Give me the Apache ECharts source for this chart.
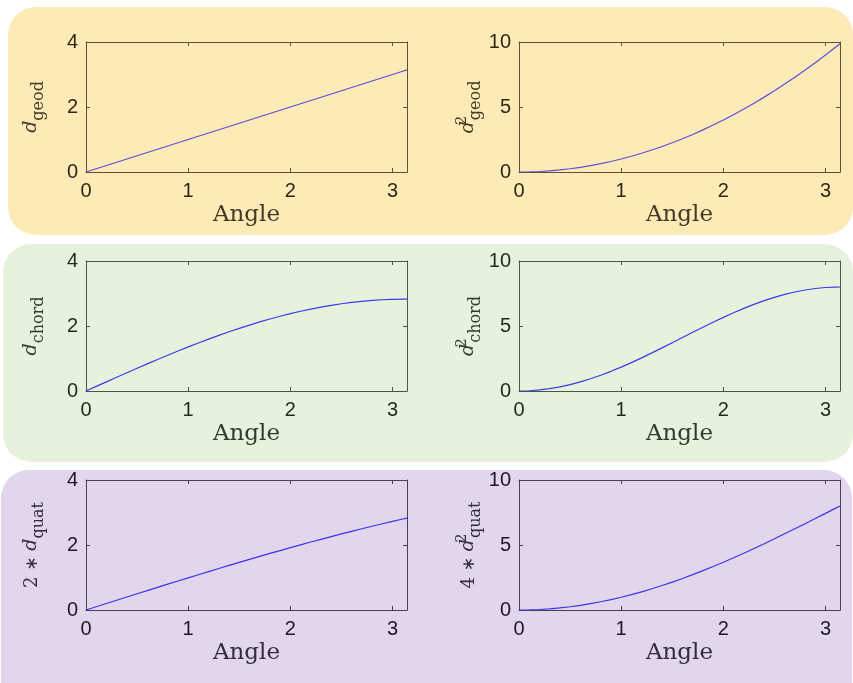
<!DOCTYPE html>
<html>
<head>
<meta charset="utf-8">
<script src="https://cdn.jsdelivr.net/npm/echarts@6/dist/echarts.min.js"></script>
<style>
html, body { margin: 0; padding: 0; background: #ffffff; }
#chart { width: 853px; height: 683px; }
</style>
</head>
<body>
<div id="chart"></div>
<script>
// Rotation angle samples (radians), 0 .. pi
const angle = [0, 0.1, 0.2, 0.3, 0.4, 0.5, 0.6, 0.7, 0.8, 0.9, 1.0, 1.1, 1.2, 1.3, 1.4, 1.5,
  1.6, 1.7, 1.8, 1.9, 2.0, 2.1, 2.2, 2.3, 2.4, 2.5, 2.6, 2.7, 2.8, 2.9, 3.0, 3.1, 3.1416];

// Geodesic distance and its square
const dGeod = [0, 0.1, 0.2, 0.3, 0.4, 0.5, 0.6, 0.7, 0.8, 0.9, 1.0, 1.1, 1.2, 1.3, 1.4, 1.5,
  1.6, 1.7, 1.8, 1.9, 2.0, 2.1, 2.2, 2.3, 2.4, 2.5, 2.6, 2.7, 2.8, 2.9, 3.0, 3.1, 3.1416];
const dGeodSq = [0, 0.01, 0.04, 0.09, 0.16, 0.25, 0.36, 0.49, 0.64, 0.81, 1.0, 1.21, 1.44, 1.69, 1.96, 2.25,
  2.56, 2.89, 3.24, 3.61, 4.0, 4.41, 4.84, 5.29, 5.76, 6.25, 6.76, 7.29, 7.84, 8.41, 9.0, 9.61, 9.87];

// Chordal distance and its square
const dChord = [0, 0.141, 0.282, 0.423, 0.562, 0.700, 0.836, 0.970, 1.101, 1.230, 1.356, 1.478, 1.597, 1.712, 1.822, 1.928,
  2.029, 2.125, 2.216, 2.301, 2.380, 2.453, 2.521, 2.582, 2.636, 2.684, 2.725, 2.760, 2.787, 2.808, 2.821, 2.828, 2.828];
const dChordSq = [0, 0.020, 0.080, 0.179, 0.316, 0.490, 0.699, 0.941, 1.213, 1.514, 1.839, 2.186, 2.551, 2.930, 3.320, 3.717,
  4.117, 4.515, 4.909, 5.293, 5.665, 6.019, 6.354, 6.665, 6.950, 7.205, 7.428, 7.616, 7.769, 7.884, 7.960, 7.996, 8.0];

// Quaternion distance, scaled
const dQuat2 = [0, 0.100, 0.200, 0.300, 0.399, 0.499, 0.598, 0.696, 0.795, 0.892, 0.990, 1.086, 1.182, 1.277, 1.372, 1.465,
  1.558, 1.649, 1.740, 1.829, 1.918, 2.005, 2.091, 2.175, 2.259, 2.340, 2.421, 2.500, 2.577, 2.653, 2.727, 2.799, 2.828];
const dQuat4Sq = [0, 0.010, 0.040, 0.090, 0.159, 0.249, 0.357, 0.485, 0.632, 0.796, 0.979, 1.180, 1.397, 1.631, 1.881, 2.146,
  2.426, 2.720, 3.027, 3.347, 3.678, 4.019, 4.371, 4.732, 5.101, 5.477, 5.860, 6.248, 6.640, 7.036, 7.434, 7.834, 8.0];

// Tick labels
const xTicks = [0, 1, 2, 3];
const yTicksDist = [0, 2, 4];
const yTicksSq = [0, 5, 10];

// Colour themes for the three rows
const themes = {
  geod:  { bg: '#FDEBB7', axis: '#5E5030', text: '#2F2712', name: '#433A26', line: '#5A4FD8' },
  chord: { bg: '#E6F2DC', axis: '#4B5646', text: '#1F2A1C', name: '#313B2F', line: '#3B3BEA' },
  quat:  { bg: '#E1D6EB', axis: '#463F55', text: '#1D1828', name: '#332D3F', line: '#3A34EC' }
};

const PLOT_W = 321, PLOT_H = 130;
const panels = [
  { left: 86,  top: 42,  theme: 'geod',  y: dGeod,    ticks: yTicksDist, name: '{d|d}{sub|geod}',                    gap: 39 },
  { left: 519, top: 42,  theme: 'geod',  y: dGeodSq,  ticks: yTicksSq,   name: '{d|d}{sup|2}{sub|geod}',             gap: 35 },
  { left: 86,  top: 261, theme: 'chord', y: dChord,   ticks: yTicksDist, name: '{d|d}{sub|chord}',                   gap: 39 },
  { left: 519, top: 261, theme: 'chord', y: dChordSq, ticks: yTicksSq,   name: '{d|d}{sup|2}{sub|chord}',            gap: 35 },
  { left: 86,  top: 480, theme: 'quat',  y: dQuat2,   ticks: yTicksDist, name: '{n|2 }{ast|∗}{n| }{d|d}{sub|quat}',       gap: 39 },
  { left: 519, top: 480, theme: 'quat',  y: dQuat4Sq, ticks: yTicksSq,   name: '{n|4 }{ast|∗}{n| }{d|d}{sup|2}{sub|quat}', gap: 35 }
];

const serif = 'DejaVu Serif';
const sans = 'Liberation Sans';
const xMax = angle[angle.length - 1];

// Rich text pieces for the math-style axis titles (bottom aligned, raised with padding)
function richStyles(color) {
  return {
    n:   { fontFamily: serif, fontSize: 18, verticalAlign: 'bottom', padding: [0, 0, 6, 0], color: color },
    ast: { fontFamily: 'DejaVu Sans', fontSize: 17, verticalAlign: 'bottom', padding: [0, 0, 6, 0], color: color },
    d:   { fontFamily: serif, fontStyle: 'italic', fontSize: 19, verticalAlign: 'bottom', padding: [0, 0, 6, 0], color: color },
    sup: { fontFamily: serif, fontSize: 14, verticalAlign: 'bottom', padding: [0, 0, 15, 1], width: 0, color: color },
    sub: { fontFamily: serif, fontSize: 16, verticalAlign: 'bottom', color: color }
  };
}

const grid = [], xAxis = [], yAxis = [], series = [];

panels.forEach((p, i) => {
  const t = themes[p.theme];
  const yMax = p.ticks[p.ticks.length - 1];
  grid.push({ left: p.left, top: p.top, width: PLOT_W, height: PLOT_H, containLabel: false, outerBoundsMode: 'none' });

  const lineStyle = { color: t.axis, width: 1 };
  // bottom axis with labels
  xAxis.push({
    gridIndex: i, type: 'value', position: 'bottom', min: 0, max: xMax,
    axisLine: { show: true, onZero: false, lineStyle },
    axisTick: { show: true, inside: true, length: 4, customValues: xTicks, lineStyle },
    axisLabel: { show: true, customValues: xTicks, margin: 9, color: t.text, fontFamily: sans, fontSize: 20 },
    splitLine: { show: false },
    name: 'Angle', nameLocation: 'middle', nameGap: 32, nameMoveOverlap: false,
    nameTextStyle: { fontFamily: serif, fontSize: 23, color: t.name }
  });
  // top mirror axis (box)
  xAxis.push({
    gridIndex: i, type: 'value', position: 'top', min: 0, max: xMax,
    axisLine: { show: true, onZero: false, lineStyle },
    axisTick: { show: true, inside: true, length: 4, customValues: xTicks, lineStyle },
    axisLabel: { show: false }, splitLine: { show: false }
  });
  // left axis with labels
  yAxis.push({
    gridIndex: i, type: 'value', position: 'left', min: 0, max: yMax,
    axisLine: { show: true, onZero: false, lineStyle },
    axisTick: { show: true, inside: true, length: 4, customValues: p.ticks, lineStyle },
    axisLabel: { show: true, customValues: p.ticks, margin: 8, color: t.text, fontFamily: sans, fontSize: 20 },
    splitLine: { show: false },
    name: p.name, nameLocation: 'middle', nameRotate: 90, nameGap: p.gap, nameMoveOverlap: false,
    nameTextStyle: { align: 'center', verticalAlign: 'bottom', color: t.name, rich: richStyles(t.name) }
  });
  // right mirror axis (box)
  yAxis.push({
    gridIndex: i, type: 'value', position: 'right', min: 0, max: yMax,
    axisLine: { show: true, onZero: false, lineStyle },
    axisTick: { show: true, inside: true, length: 4, customValues: p.ticks, lineStyle },
    axisLabel: { show: false }, splitLine: { show: false }
  });

  series.push({
    type: 'line', xAxisIndex: 2 * i, yAxisIndex: 2 * i,
    data: angle.map((a, k) => [a, p.y[k]]),
    showSymbol: false, smooth: false,
    lineStyle: { color: t.line, width: 1.2 },
    z: 3
  });
});

// Rounded background panels behind each row
const graphic = [
  { type: 'rect', z: -10, silent: true, shape: { x: 8, y: 7, width: 845, height: 228, r: 28 }, style: { fill: themes.geod.bg } },
  { type: 'rect', z: -10, silent: true, shape: { x: 3, y: 244, width: 850, height: 218, r: 28 }, style: { fill: themes.chord.bg } },
  { type: 'rect', z: -10, silent: true, shape: { x: 1, y: 470, width: 851, height: 240, r: 28 }, style: { fill: themes.quat.bg } }
];

const chart = echarts.init(document.getElementById('chart'), null, { renderer: 'canvas' });
chart.setOption({
  animation: false,
  backgroundColor: '#ffffff',
  graphic: graphic,
  grid: grid,
  xAxis: xAxis,
  yAxis: yAxis,
  series: series
});
</script>
</body>
</html>
